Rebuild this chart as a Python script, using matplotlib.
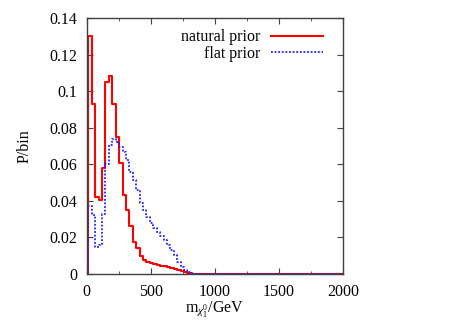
import numpy as np
import matplotlib
matplotlib.use("Agg")
import matplotlib.pyplot as plt
from matplotlib.ticker import MultipleLocator

plt.rcParams['font.family'] = ['Liberation Serif', 'DejaVu Serif']
plt.rcParams['mathtext.fontset'] = 'custom'
plt.rcParams['mathtext.rm'] = 'Liberation Serif'
plt.rcParams['mathtext.it'] = 'Liberation Serif:italic'

# histogram: 75 bins over 0-2000 GeV
n_bins = 75
x_max = 2000
natural = [0.0, 0.130, 0.093, 0.042, 0.0405, 0.058, 0.105, 0.108, 0.093, 0.075,
           0.0605, 0.0432, 0.035, 0.026, 0.0177, 0.014, 0.010, 0.0077, 0.0067,
           0.0058, 0.0055, 0.005, 0.0045, 0.0042, 0.0038, 0.0033, 0.0028,
           0.0022, 0.0016, 0.001, 0.0003]
flat = [0.0, 0.037, 0.0323, 0.015, 0.016, 0.033, 0.060, 0.0705, 0.0737, 0.072,
        0.0697, 0.0669, 0.0623, 0.056, 0.0514, 0.046, 0.0387, 0.035, 0.0313,
        0.0277, 0.025, 0.0231, 0.0208, 0.0186, 0.0159, 0.0131, 0.0104, 0.0067,
        0.004, 0.002, 0.001, 0.0005]
natural = natural + [0.0] * (n_bins + 1 - len(natural))
flat = flat + [0.0] * (n_bins + 1 - len(flat))
centers = np.arange(n_bins + 1) * x_max / n_bins

y_ticks = [0, 0.02, 0.04, 0.06, 0.08, 0.1, 0.12, 0.14]
y_labels = ['0', '0.02', '0.04', '0.06', '0.08', '0.1', '0.12', '0.14']

fig = plt.figure(figsize=(4.57, 3.2), dpi=100)
ax = fig.add_axes([0.1897, 0.1438, 0.5603, 0.80])

ax.step(centers, natural, where='mid', color='#ff0000', lw=1.5,
        label='natural prior')
ax.step(centers, flat, where='mid', color='#2020ff', lw=1.3,
        linestyle=(0, (1, 1)), label='flat prior')

ax.set_xlim(0, 2000)
ax.set_ylim(0, 0.14)
ax.xaxis.set_major_locator(MultipleLocator(500))
ax.xaxis.set_minor_locator(MultipleLocator(250))
ax.set_yticks(y_ticks)
ax.set_yticklabels(y_labels)
ax.tick_params(which='both', direction='in', top=True, right=True,
               labelsize=11.5, color='#404040')
ax.tick_params(which='major', length=4, pad=7)
ax.tick_params(which='minor', length=2)
for s in ax.spines.values():
    s.set_color('#404040')
    s.set_linewidth(1.0)

ax.set_xlabel(r'm$_{\chi_1^0}$/GeV', fontsize=11.5, labelpad=0)
ax.set_ylabel('P/bin', fontsize=11.5, labelpad=12)

ax.legend(loc='upper right', frameon=False, markerfirst=False, fontsize=11.5,
          handlelength=3.2, handletextpad=0.7, labelspacing=0.05,
          borderaxespad=0.3, bbox_to_anchor=(0.965, 1.0))

fig.savefig('out.png', dpi=100)
